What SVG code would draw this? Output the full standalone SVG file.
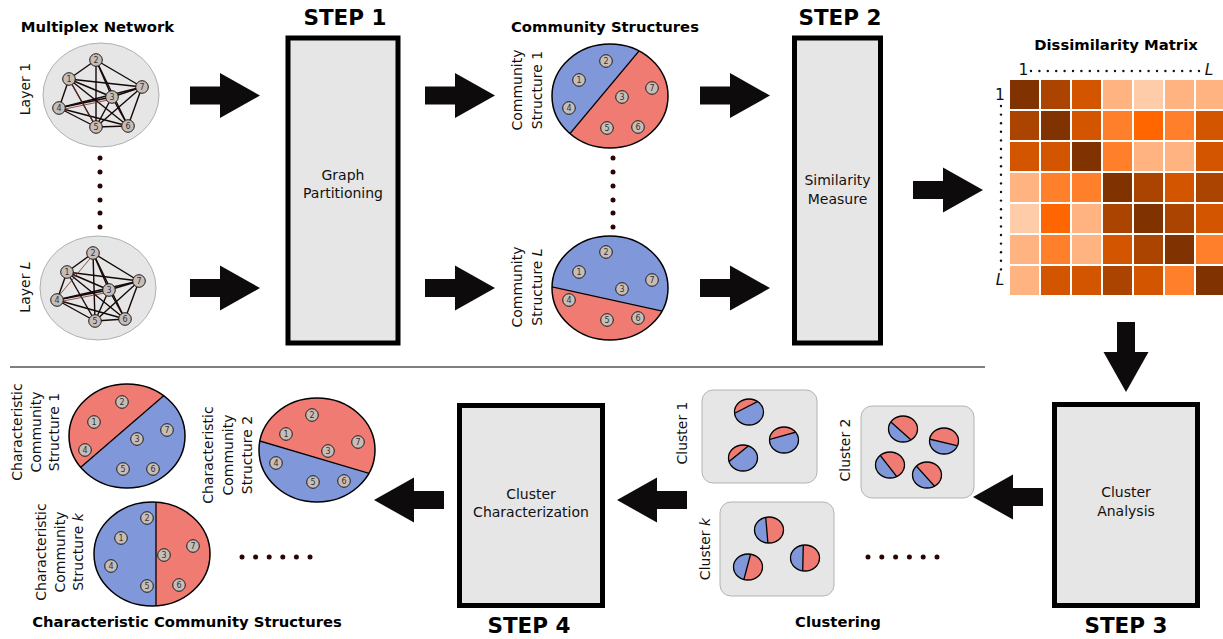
<svg xmlns="http://www.w3.org/2000/svg" xmlns:xlink="http://www.w3.org/1999/xlink" width="1223" height="639" viewBox="0 0 1223 639">
<style>
.t{font-family:"DejaVu Sans",sans-serif;fill:#111;font-size:14px}
.b{font-weight:bold}
.ttl{font-family:"DejaVu Sans",sans-serif;font-weight:bold;font-size:14.8px;fill:#000;text-anchor:middle}
.stp{font-family:"DejaVu Sans",sans-serif;font-weight:bold;font-size:21.5px;fill:#000;text-anchor:middle}
.mid{text-anchor:middle}
.nd circle{fill:#c8bdb6;stroke:#1a1a1a;stroke-width:1}
.nd text{font-family:"DejaVu Sans",sans-serif;font-size:8px;fill:#333;text-anchor:middle}
.e line{stroke:#140808;stroke-width:1.4}
.er{stroke:#7a2a2a;stroke-width:0.8}
.step{fill:#e6e6e6;stroke:#000;stroke-width:5}
.cl{fill:#e6e6e6;stroke:#b3b3b3;stroke-width:1}
.lay{fill:#e6e6e6;stroke:#b0b0b0;stroke-width:1}
.dot{fill:#2b0505}
.mdot{fill:#111}
.red{fill:#ef7b73}
.blue{fill:#8097d9}
.ol{fill:none;stroke:#000;stroke-width:1.5}
.ch{stroke:#000;stroke-width:1.3}
.pol{fill:none;stroke:#000;stroke-width:1.3}
</style>
<defs>
<path id="arr" d="M0,-9 H30 V-22.5 L70,0 L30,22.5 V9 H0 Z" fill="#0d0b0b"/>
<clipPath id="bigc"><ellipse cx="0" cy="0" rx="58" ry="52"/></clipPath>
<clipPath id="pc"><ellipse cx="0" cy="0" rx="14.5" ry="13"/></clipPath>
</defs>

<!-- connectors -->
<g id="connectors">
<use xlink:href="#arr" transform="translate(190,95.5)"/>
<use xlink:href="#arr" transform="translate(425,95.5)"/>
<use xlink:href="#arr" transform="translate(700,95.5)"/>
<use xlink:href="#arr" transform="translate(190,288)"/>
<use xlink:href="#arr" transform="translate(425,288)"/>
<use xlink:href="#arr" transform="translate(700,288)"/>
<use xlink:href="#arr" transform="translate(913,190)"/>
<use xlink:href="#arr" transform="translate(1126,322) rotate(90)"/>
<use xlink:href="#arr" transform="translate(1043,497) rotate(180)"/>
<use xlink:href="#arr" transform="translate(687,500) rotate(180)"/>
<use xlink:href="#arr" transform="translate(444,500) rotate(180)"/>
</g>

<line x1="10" y1="367" x2="985" y2="367" stroke="#000" stroke-width="1"/>

<!-- Multiplex network -->
<g id="multiplex">
<text class="ttl" x="97.5" y="32">Multiplex Network</text>
<text class="t mid" transform="translate(30,89) rotate(-90)">Layer 1</text>
<text class="t mid" transform="translate(30,287) rotate(-90)">Layer <tspan font-style="italic">L</tspan></text>
</g>

<g id="layer1">
<ellipse class="lay" cx="101" cy="95" rx="58" ry="52"/>
<g class="e">
<line x1="69" y1="79" x2="96" y2="60"/><line x1="69" y1="79" x2="112" y2="97"/><line x1="69" y1="79" x2="59" y2="108"/>
<line x1="69" y1="79" x2="96" y2="127"/><line x1="69" y1="79" x2="128" y2="126"/><line x1="69" y1="79" x2="142" y2="87"/>
<line x1="96" y1="60" x2="112" y2="97"/><line x1="96" y1="60" x2="96" y2="127"/><line x1="96" y1="60" x2="128" y2="126"/>
<line x1="96" y1="60" x2="142" y2="87"/><line x1="112" y1="97" x2="59" y2="108"/><line x1="112" y1="97" x2="96" y2="127"/>
<line x1="112" y1="97" x2="128" y2="126"/><line x1="112" y1="97" x2="142" y2="87"/><line x1="59" y1="108" x2="96" y2="127"/>
<line x1="59" y1="108" x2="128" y2="126"/><line x1="59" y1="108" x2="142" y2="87"/><line x1="96" y1="127" x2="128" y2="126"/>
<line x1="96" y1="127" x2="142" y2="87"/><line x1="128" y1="126" x2="142" y2="87"/>
</g>
<line class="er" x1="60" y1="110" x2="113" y2="99"/><line class="er" x1="70" y1="81" x2="97" y2="129"/>
<g class="nd"><circle cx="69" cy="79" r="6.3"/><text x="69" y="81.8">1</text></g>
<g class="nd"><circle cx="96" cy="60" r="6.3"/><text x="96" y="62.8">2</text></g>
<g class="nd"><circle cx="112" cy="97" r="6.3"/><text x="112" y="99.8">3</text></g>
<g class="nd"><circle cx="59" cy="108" r="6.3"/><text x="59" y="110.8">4</text></g>
<g class="nd"><circle cx="96" cy="127" r="6.3"/><text x="96" y="129.8">5</text></g>
<g class="nd"><circle cx="128" cy="126" r="6.3"/><text x="128" y="128.8">6</text></g>
<g class="nd"><circle cx="142" cy="87" r="6.3"/><text x="142" y="89.8">7</text></g>
</g>

<g id="layer-dots">
<circle class="dot" cx="100" cy="158" r="2.5"/><circle class="dot" cx="100" cy="172" r="2.5"/><circle class="dot" cx="100" cy="186" r="2.5"/>
<circle class="dot" cx="100" cy="200" r="2.5"/><circle class="dot" cx="100" cy="213" r="2.5"/><circle class="dot" cx="100" cy="227" r="2.5"/>
</g>

<g id="layerL">
<ellipse class="lay" cx="98" cy="288" rx="58" ry="52"/>
<g class="e">
<line x1="67" y1="272" x2="93" y2="253"/><line x1="67" y1="272" x2="109" y2="290"/><line x1="67" y1="272" x2="57" y2="300"/>
<line x1="67" y1="272" x2="95" y2="321"/><line x1="67" y1="272" x2="125" y2="319"/><line x1="67" y1="272" x2="139" y2="281"/>
<line x1="93" y1="253" x2="109" y2="290"/><line x1="93" y1="253" x2="95" y2="321"/><line x1="93" y1="253" x2="125" y2="319"/>
<line x1="93" y1="253" x2="139" y2="281"/><line x1="109" y1="290" x2="57" y2="300"/><line x1="109" y1="290" x2="95" y2="321"/>
<line x1="109" y1="290" x2="125" y2="319"/><line x1="109" y1="290" x2="139" y2="281"/><line x1="57" y1="300" x2="95" y2="321"/>
<line x1="57" y1="300" x2="125" y2="319"/><line x1="57" y1="300" x2="139" y2="281"/><line x1="95" y1="321" x2="125" y2="319"/>
<line x1="95" y1="321" x2="139" y2="281"/><line x1="125" y1="319" x2="139" y2="281"/>
</g>
<line class="er" x1="58" y1="302" x2="110" y2="292"/><line class="er" x1="93" y1="255" x2="57" y2="298"/>
<g class="nd"><circle cx="67" cy="272" r="6.3"/><text x="67" y="274.8">1</text></g>
<g class="nd"><circle cx="93" cy="253" r="6.3"/><text x="93" y="255.8">2</text></g>
<g class="nd"><circle cx="109" cy="290" r="6.3"/><text x="109" y="292.8">3</text></g>
<g class="nd"><circle cx="57" cy="300" r="6.3"/><text x="57" y="302.8">4</text></g>
<g class="nd"><circle cx="95" cy="321" r="6.3"/><text x="95" y="323.8">5</text></g>
<g class="nd"><circle cx="125" cy="319" r="6.3"/><text x="125" y="321.8">6</text></g>
<g class="nd"><circle cx="139" cy="281" r="6.3"/><text x="139" y="283.8">7</text></g>
</g>

<!-- STEP 1 -->
<g id="step1">
<text class="stp" x="345" y="25">STEP 1</text>
<rect class="step" x="288" y="38" width="110" height="305"/>
<text class="t mid" x="343" y="180">Graph</text>
<text class="t mid" x="343" y="198">Partitioning</text>
</g>

<!-- Community structures -->
<g id="community-structures">
<text class="ttl" x="605" y="32">Community Structures</text>
<text class="t mid" transform="translate(522,90) rotate(-90)"><tspan x="0" y="0">Community</tspan><tspan x="0" y="20">Structure 1</tspan></text>
<text class="t mid" transform="translate(522,287) rotate(-90)"><tspan x="0" y="0">Community</tspan><tspan x="0" y="20">Structure <tspan font-style="italic">L</tspan></tspan></text>
</g>

<g id="cs1">
<g transform="translate(610,96)">
<g clip-path="url(#bigc)">
<ellipse class="red" rx="58" ry="52"/>
<rect class="blue" x="-80" y="-80" width="160" height="73.4" transform="rotate(-50.1)"/>
<line class="ch" x1="-80" y1="-6.6" x2="80" y2="-6.6" transform="rotate(-50.1)"/>
</g>
<ellipse class="ol" rx="58" ry="52"/>
</g>
<g class="nd"><circle cx="579" cy="80" r="6.3"/><text x="579" y="82.8">1</text></g>
<g class="nd"><circle cx="606" cy="61" r="6.3"/><text x="606" y="63.8">2</text></g>
<g class="nd"><circle cx="622" cy="97" r="6.3"/><text x="622" y="99.8">3</text></g>
<g class="nd"><circle cx="569" cy="108" r="6.3"/><text x="569" y="110.8">4</text></g>
<g class="nd"><circle cx="607" cy="128" r="6.3"/><text x="607" y="130.8">5</text></g>
<g class="nd"><circle cx="638" cy="127" r="6.3"/><text x="638" y="129.8">6</text></g>
<g class="nd"><circle cx="652" cy="88" r="6.3"/><text x="652" y="90.8">7</text></g>
</g>

<g id="cs-dots">
<circle class="dot" cx="613" cy="158" r="2.5"/><circle class="dot" cx="613" cy="172" r="2.5"/><circle class="dot" cx="613" cy="186" r="2.5"/>
<circle class="dot" cx="613" cy="200" r="2.5"/><circle class="dot" cx="613" cy="213" r="2.5"/><circle class="dot" cx="613" cy="227" r="2.5"/>
</g>

<g id="csL">
<g transform="translate(610,288)">
<g clip-path="url(#bigc)">
<ellipse class="red" rx="58" ry="52"/>
<rect class="blue" x="-80" y="-80" width="160" height="91.3" transform="rotate(12.4)"/>
<line class="ch" x1="-80" y1="11.3" x2="80" y2="11.3" transform="rotate(12.4)"/>
</g>
<ellipse class="ol" rx="58" ry="52"/>
</g>
<g class="nd"><circle cx="579" cy="272" r="6.3"/><text x="579" y="274.8">1</text></g>
<g class="nd"><circle cx="606" cy="252" r="6.3"/><text x="606" y="254.8">2</text></g>
<g class="nd"><circle cx="622" cy="289" r="6.3"/><text x="622" y="291.8">3</text></g>
<g class="nd"><circle cx="569" cy="300" r="6.3"/><text x="569" y="302.8">4</text></g>
<g class="nd"><circle cx="607" cy="320" r="6.3"/><text x="607" y="322.8">5</text></g>
<g class="nd"><circle cx="638" cy="318" r="6.3"/><text x="638" y="320.8">6</text></g>
<g class="nd"><circle cx="652" cy="280" r="6.3"/><text x="652" y="282.8">7</text></g>
</g>

<!-- STEP 2 -->
<g id="step2">
<text class="stp" x="840" y="25">STEP 2</text>
<rect class="step" x="794.5" y="38" width="86" height="305"/>
<text class="t mid" x="837.5" y="185">Similarity</text>
<text class="t mid" x="837.5" y="204">Measure</text>
</g>

<!-- Dissimilarity matrix -->
<g id="matrix">
<text class="ttl" x="1116" y="50">Dissimilarity Matrix</text>
<text class="t mid" x="1023.5" y="75" style="font-size:15.5px">1</text>
<text class="t mid" x="1209" y="75" style="font-size:15.5px;font-style:italic">L</text>
<text class="t mid" x="1000" y="100" style="font-size:15.5px">1</text>
<text class="t mid" x="1000" y="285" style="font-size:15.5px;font-style:italic">L</text>
<g class="mdot">
<circle cx="1031" cy="71" r="1.2"/><circle cx="1039.4" cy="71" r="1.2"/><circle cx="1047.8" cy="71" r="1.2"/><circle cx="1056.2" cy="71" r="1.2"/><circle cx="1064.6" cy="71" r="1.2"/><circle cx="1073" cy="71" r="1.2"/><circle cx="1081.4" cy="71" r="1.2"/><circle cx="1089.8" cy="71" r="1.2"/><circle cx="1098.2" cy="71" r="1.2"/><circle cx="1106.6" cy="71" r="1.2"/><circle cx="1115" cy="71" r="1.2"/><circle cx="1123.4" cy="71" r="1.2"/><circle cx="1131.8" cy="71" r="1.2"/><circle cx="1140.2" cy="71" r="1.2"/><circle cx="1148.6" cy="71" r="1.2"/><circle cx="1157" cy="71" r="1.2"/><circle cx="1165.4" cy="71" r="1.2"/><circle cx="1173.8" cy="71" r="1.2"/><circle cx="1182.2" cy="71" r="1.2"/><circle cx="1190.6" cy="71" r="1.2"/><circle cx="1199" cy="71" r="1.2"/>
<circle cx="1001" cy="106" r="1.2"/><circle cx="1001" cy="114.6" r="1.2"/><circle cx="1001" cy="123.2" r="1.2"/><circle cx="1001" cy="131.8" r="1.2"/><circle cx="1001" cy="140.4" r="1.2"/><circle cx="1001" cy="149" r="1.2"/><circle cx="1001" cy="157.6" r="1.2"/><circle cx="1001" cy="166.2" r="1.2"/><circle cx="1001" cy="174.8" r="1.2"/><circle cx="1001" cy="183.4" r="1.2"/><circle cx="1001" cy="192" r="1.2"/><circle cx="1001" cy="200.6" r="1.2"/><circle cx="1001" cy="209.2" r="1.2"/><circle cx="1001" cy="217.8" r="1.2"/><circle cx="1001" cy="226.4" r="1.2"/><circle cx="1001" cy="235" r="1.2"/><circle cx="1001" cy="243.6" r="1.2"/><circle cx="1001" cy="252.2" r="1.2"/><circle cx="1001" cy="260.8" r="1.2"/><circle cx="1001" cy="269.4" r="1.2"/>
</g>
<g>
<rect x="1010" y="80" width="29" height="29" fill="#803300"/><rect x="1041" y="80" width="29" height="29" fill="#aa4400"/><rect x="1072" y="80" width="29" height="29" fill="#d45500"/><rect x="1103" y="80" width="29" height="29" fill="#ffb380"/><rect x="1134" y="80" width="29" height="29" fill="#ffccaa"/><rect x="1165" y="80" width="29" height="29" fill="#ffb380"/><rect x="1196" y="80" width="29" height="29" fill="#ffb380"/>
<rect x="1010" y="111" width="29" height="29" fill="#aa4400"/><rect x="1041" y="111" width="29" height="29" fill="#803300"/><rect x="1072" y="111" width="29" height="29" fill="#d45500"/><rect x="1103" y="111" width="29" height="29" fill="#ff7f2a"/><rect x="1134" y="111" width="29" height="29" fill="#ff6600"/><rect x="1165" y="111" width="29" height="29" fill="#ff7f2a"/><rect x="1196" y="111" width="29" height="29" fill="#d45500"/>
<rect x="1010" y="142" width="29" height="29" fill="#d45500"/><rect x="1041" y="142" width="29" height="29" fill="#d45500"/><rect x="1072" y="142" width="29" height="29" fill="#803300"/><rect x="1103" y="142" width="29" height="29" fill="#ff7f2a"/><rect x="1134" y="142" width="29" height="29" fill="#ffb380"/><rect x="1165" y="142" width="29" height="29" fill="#ffb380"/><rect x="1196" y="142" width="29" height="29" fill="#d45500"/>
<rect x="1010" y="173" width="29" height="29" fill="#ffb380"/><rect x="1041" y="173" width="29" height="29" fill="#ff7f2a"/><rect x="1072" y="173" width="29" height="29" fill="#ff7f2a"/><rect x="1103" y="173" width="29" height="29" fill="#803300"/><rect x="1134" y="173" width="29" height="29" fill="#aa4400"/><rect x="1165" y="173" width="29" height="29" fill="#d45500"/><rect x="1196" y="173" width="29" height="29" fill="#aa4400"/>
<rect x="1010" y="204" width="29" height="29" fill="#ffccaa"/><rect x="1041" y="204" width="29" height="29" fill="#ff6600"/><rect x="1072" y="204" width="29" height="29" fill="#ffb380"/><rect x="1103" y="204" width="29" height="29" fill="#aa4400"/><rect x="1134" y="204" width="29" height="29" fill="#803300"/><rect x="1165" y="204" width="29" height="29" fill="#aa4400"/><rect x="1196" y="204" width="29" height="29" fill="#d45500"/>
<rect x="1010" y="235" width="29" height="29" fill="#ffb380"/><rect x="1041" y="235" width="29" height="29" fill="#ff7f2a"/><rect x="1072" y="235" width="29" height="29" fill="#ffb380"/><rect x="1103" y="235" width="29" height="29" fill="#d45500"/><rect x="1134" y="235" width="29" height="29" fill="#aa4400"/><rect x="1165" y="235" width="29" height="29" fill="#803300"/><rect x="1196" y="235" width="29" height="29" fill="#ff7f2a"/>
<rect x="1010" y="266" width="29" height="29" fill="#ffb380"/><rect x="1041" y="266" width="29" height="29" fill="#d45500"/><rect x="1072" y="266" width="29" height="29" fill="#d45500"/><rect x="1103" y="266" width="29" height="29" fill="#aa4400"/><rect x="1134" y="266" width="29" height="29" fill="#d45500"/><rect x="1165" y="266" width="29" height="29" fill="#ff7f2a"/><rect x="1196" y="266" width="29" height="29" fill="#803300"/>
</g>
</g>

<!-- STEP 3 -->
<g id="step3">
<rect class="step" x="1054.5" y="404.5" width="143" height="201"/>
<text class="t mid" x="1126" y="497">Cluster</text>
<text class="t mid" x="1126" y="516">Analysis</text>
<text class="stp" x="1126" y="633">STEP 3</text>
</g>

<!-- Clustering -->
<g id="cluster1">
<rect class="cl" x="702" y="390" width="115" height="93" rx="11"/>
<text class="t mid" transform="translate(687,433) rotate(-90)">Cluster 1</text>
<g transform="translate(749,412)"><g clip-path="url(#pc)"><rect class="blue" x="-20" y="-20" width="40" height="40"/><rect class="red" x="-30" y="-30" width="60" height="24.6" transform="rotate(-27.2)"/><line class="ch" x1="-30" y1="-5.4" x2="30" y2="-5.4" transform="rotate(-27.2)"/></g><ellipse class="pol" rx="14.5" ry="13"/></g>
<g transform="translate(784,440)"><g clip-path="url(#pc)"><rect class="blue" x="-20" y="-20" width="40" height="40"/><rect class="red" x="-30" y="-30" width="60" height="25.6" transform="rotate(-15.6)"/><line class="ch" x1="-30" y1="-4.4" x2="30" y2="-4.4" transform="rotate(-15.6)"/></g><ellipse class="pol" rx="14.5" ry="13"/></g>
<g transform="translate(743,458)"><g clip-path="url(#pc)"><rect class="blue" x="-20" y="-20" width="40" height="40"/><rect class="red" x="-30" y="-30" width="60" height="24" transform="rotate(-39.1)"/><line class="ch" x1="-30" y1="-6" x2="30" y2="-6" transform="rotate(-39.1)"/></g><ellipse class="pol" rx="14.5" ry="13"/></g>
</g>

<g id="cluster2">
<rect class="cl" x="861" y="406" width="113" height="92" rx="11"/>
<text class="t mid" transform="translate(850,450) rotate(-90)">Cluster 2</text>
<g transform="translate(903,429)"><g clip-path="url(#pc)"><rect class="blue" x="-20" y="-20" width="40" height="40"/><rect class="red" x="-30" y="-30" width="60" height="32.8" transform="rotate(42)"/><line class="ch" x1="-30" y1="2.8" x2="30" y2="2.8" transform="rotate(42)"/></g><ellipse class="pol" rx="14.5" ry="13"/></g>
<g transform="translate(944,441)"><g clip-path="url(#pc)"><rect class="blue" x="-20" y="-20" width="40" height="40"/><rect class="red" x="-30" y="-30" width="60" height="31.5" transform="rotate(13.3)"/><line class="ch" x1="-30" y1="1.5" x2="30" y2="1.5" transform="rotate(13.3)"/></g><ellipse class="pol" rx="14.5" ry="13"/></g>
<g transform="translate(890,465)"><g clip-path="url(#pc)"><rect class="blue" x="-20" y="-20" width="40" height="40"/><rect class="red" x="-30" y="-30" width="60" height="31.8" transform="rotate(52.1)"/><line class="ch" x1="-30" y1="1.8" x2="30" y2="1.8" transform="rotate(52.1)"/></g><ellipse class="pol" rx="14.5" ry="13"/></g>
<g transform="translate(927,475)"><g clip-path="url(#pc)"><rect class="blue" x="-20" y="-20" width="40" height="40"/><rect class="red" x="-30" y="-30" width="60" height="31.9" transform="rotate(47.9)"/><line class="ch" x1="-30" y1="1.9" x2="30" y2="1.9" transform="rotate(47.9)"/></g><ellipse class="pol" rx="14.5" ry="13"/></g>
</g>

<g id="clusterk">
<rect class="cl" x="720" y="502" width="114" height="94" rx="11"/>
<text class="t mid" transform="translate(710,549) rotate(-90)">Cluster <tspan font-style="italic">k</tspan></text>
<g transform="translate(769,530)"><g clip-path="url(#pc)"><rect class="blue" x="-20" y="-20" width="40" height="40"/><rect class="red" x="-30" y="-30" width="60" height="32.2" transform="rotate(85.1)"/><line class="ch" x1="-30" y1="2.2" x2="30" y2="2.2" transform="rotate(85.1)"/></g><ellipse class="pol" rx="14.5" ry="13"/></g>
<g transform="translate(805,558)"><g clip-path="url(#pc)"><rect class="blue" x="-20" y="-20" width="40" height="40"/><rect class="red" x="-30" y="-30" width="60" height="32" transform="rotate(91.3)"/><line class="ch" x1="-30" y1="2" x2="30" y2="2" transform="rotate(91.3)"/></g><ellipse class="pol" rx="14.5" ry="13"/></g>
<g transform="translate(748,567)"><g clip-path="url(#pc)"><rect class="blue" x="-20" y="-20" width="40" height="40"/><rect class="red" x="-30" y="-30" width="60" height="30.8" transform="rotate(104.8)"/><line class="ch" x1="-30" y1="0.8" x2="30" y2="0.8" transform="rotate(104.8)"/></g><ellipse class="pol" rx="14.5" ry="13"/></g>
</g>

<g id="cluster-dots">
<circle class="dot" cx="868" cy="557" r="2.5"/><circle class="dot" cx="881.8" cy="557" r="2.5"/><circle class="dot" cx="895.6" cy="557" r="2.5"/>
<circle class="dot" cx="909.4" cy="557" r="2.5"/><circle class="dot" cx="923.2" cy="557" r="2.5"/><circle class="dot" cx="937" cy="557" r="2.5"/>
</g>
<text class="ttl" x="838" y="627">Clustering</text>

<!-- STEP 4 -->
<g id="step4">
<rect class="step" x="459.5" y="405.5" width="143" height="200"/>
<text class="t mid" x="531" y="499">Cluster</text>
<text class="t mid" x="531" y="517">Characterization</text>
<text class="stp" x="529" y="633">STEP 4</text>
</g>

<!-- Characteristic community structures -->
<g id="ccs1">
<text class="t mid" transform="translate(22,432) rotate(-90)"><tspan x="0" y="0">Characteristic</tspan><tspan x="0" y="18.5">Community</tspan><tspan x="0" y="37">Structure 1</tspan></text>
<g transform="translate(127,436)">
<g clip-path="url(#bigc)">
<ellipse class="blue" rx="58" ry="52"/>
<rect class="red" x="-80" y="-80" width="160" height="73.5" transform="rotate(-40.8)"/>
<line class="ch" x1="-80" y1="-6.5" x2="80" y2="-6.5" transform="rotate(-40.8)"/>
</g>
<ellipse class="ol" rx="58" ry="52"/>
</g>
<g class="nd"><circle cx="94" cy="422" r="6.3"/><text x="94" y="424.8">1</text></g>
<g class="nd"><circle cx="122" cy="402" r="6.3"/><text x="122" y="404.8">2</text></g>
<g class="nd"><circle cx="137" cy="439" r="6.3"/><text x="137" y="441.8">3</text></g>
<g class="nd"><circle cx="85" cy="450" r="6.3"/><text x="85" y="452.8">4</text></g>
<g class="nd"><circle cx="123" cy="469" r="6.3"/><text x="123" y="471.8">5</text></g>
<g class="nd"><circle cx="153" cy="469" r="6.3"/><text x="153" y="471.8">6</text></g>
<g class="nd"><circle cx="167" cy="430" r="6.3"/><text x="167" y="432.8">7</text></g>
</g>

<g id="ccs2">
<text class="t mid" transform="translate(213,455) rotate(-90)"><tspan x="0" y="0">Characteristic</tspan><tspan x="0" y="19.5">Community</tspan><tspan x="0" y="39">Structure 2</tspan></text>
<g transform="translate(317,450)">
<g clip-path="url(#bigc)">
<ellipse class="blue" rx="58" ry="52"/>
<rect class="red" x="-80" y="-80" width="160" height="87.6" transform="rotate(16.5)"/>
<line class="ch" x1="-80" y1="7.6" x2="80" y2="7.6" transform="rotate(16.5)"/>
</g>
<ellipse class="ol" rx="58" ry="52"/>
</g>
<g class="nd"><circle cx="286" cy="434" r="6.3"/><text x="286" y="436.8">1</text></g>
<g class="nd"><circle cx="312" cy="415" r="6.3"/><text x="312" y="417.8">2</text></g>
<g class="nd"><circle cx="328" cy="451" r="6.3"/><text x="328" y="453.8">3</text></g>
<g class="nd"><circle cx="276" cy="463" r="6.3"/><text x="276" y="465.8">4</text></g>
<g class="nd"><circle cx="313" cy="482" r="6.3"/><text x="313" y="484.8">5</text></g>
<g class="nd"><circle cx="344" cy="481" r="6.3"/><text x="344" y="483.8">6</text></g>
<g class="nd"><circle cx="358" cy="442" r="6.3"/><text x="358" y="444.8">7</text></g>
</g>

<g id="ccsk">
<text class="t mid" transform="translate(46,552) rotate(-90)"><tspan x="0" y="0">Characteristic</tspan><tspan x="0" y="18.5">Community</tspan><tspan x="0" y="37">Structure <tspan font-style="italic">k</tspan></tspan></text>
<g transform="translate(152,554)">
<g clip-path="url(#bigc)">
<ellipse class="blue" rx="58" ry="52"/>
<rect class="red" x="4" y="-80" width="80" height="160"/>
<line class="ch" x1="4" y1="-80" x2="4" y2="80"/>
</g>
<ellipse class="ol" rx="58" ry="52"/>
</g>
<g class="nd"><circle cx="121" cy="538" r="6.3"/><text x="121" y="540.8">1</text></g>
<g class="nd"><circle cx="147" cy="518" r="6.3"/><text x="147" y="520.8">2</text></g>
<g class="nd"><circle cx="164" cy="555" r="6.3"/><text x="164" y="557.8">3</text></g>
<g class="nd"><circle cx="111" cy="566" r="6.3"/><text x="111" y="568.8">4</text></g>
<g class="nd"><circle cx="147" cy="586" r="6.3"/><text x="147" y="588.8">5</text></g>
<g class="nd"><circle cx="179" cy="585" r="6.3"/><text x="179" y="587.8">6</text></g>
<g class="nd"><circle cx="193" cy="546" r="6.3"/><text x="193" y="548.8">7</text></g>
</g>

<g id="ccs-dots">
<circle class="dot" cx="242" cy="557" r="2.5"/><circle class="dot" cx="255.6" cy="557" r="2.5"/><circle class="dot" cx="269.2" cy="557" r="2.5"/>
<circle class="dot" cx="282.8" cy="557" r="2.5"/><circle class="dot" cx="296.4" cy="557" r="2.5"/><circle class="dot" cx="310" cy="557" r="2.5"/>
</g>
<text class="ttl" x="187" y="627">Characteristic Community Structures</text>
</svg>
